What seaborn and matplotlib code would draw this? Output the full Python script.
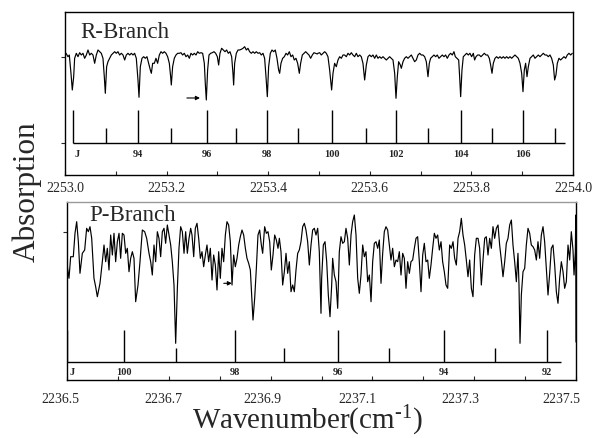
import numpy as np
import pandas as pd
import matplotlib
matplotlib.use("Agg")
import matplotlib.pyplot as plt
import matplotlib.transforms as mtransforms
import seaborn as sns
from matplotlib.ticker import MultipleLocator, FormatStrFormatter

# ---------------- data ----------------
# R-branch spectrum (wavenumber cm-1, absorption arb. units)
r_wn = [2253.0000, 2253.0020, 2253.0059, 2253.0085, 2253.0118, 2253.0144, 2253.0171, 2253.0190, 2253.0223, 2253.0256,
        2253.0289, 2253.0322, 2253.0354, 2253.0387, 2253.0420, 2253.0453, 2253.0486, 2253.0518, 2253.0551, 2253.0584,
        2253.0617, 2253.0650, 2253.0682, 2253.0715, 2253.0748, 2253.0774, 2253.0794, 2253.0820, 2253.0846, 2253.0879,
        2253.0912, 2253.0945, 2253.0978, 2253.1010, 2253.1043, 2253.1076, 2253.1109, 2253.1142, 2253.1175, 2253.1207,
        2253.1240, 2253.1273, 2253.1306, 2253.1339, 2253.1371, 2253.1404, 2253.1437, 2253.1457, 2253.1483, 2253.1516,
        2253.1549, 2253.1581, 2253.1614, 2253.1647, 2253.1680, 2253.1700, 2253.1726, 2253.1759, 2253.1791, 2253.1824,
        2253.1857, 2253.1890, 2253.1923, 2253.1955, 2253.1988, 2253.2021, 2253.2054, 2253.2080, 2253.2093, 2253.2119,
        2253.2152, 2253.2185, 2253.2218, 2253.2251, 2253.2283, 2253.2316, 2253.2349, 2253.2382, 2253.2415, 2253.2448,
        2253.2480, 2253.2513, 2253.2546, 2253.2579, 2253.2612, 2253.2644, 2253.2677, 2253.2710, 2253.2743, 2253.2762,
        2253.2782, 2253.2808, 2253.2835, 2253.2867, 2253.2900, 2253.2933, 2253.2966, 2253.2999, 2253.3025, 2253.3051,
        2253.3084, 2253.3117, 2253.3150, 2253.3182, 2253.3215, 2253.3248, 2253.3281, 2253.3307, 2253.3320, 2253.3340,
        2253.3373, 2253.3406, 2253.3438, 2253.3471, 2253.3504, 2253.3537, 2253.3570, 2253.3602, 2253.3635, 2253.3668,
        2253.3701, 2253.3734, 2253.3766, 2253.3799, 2253.3832, 2253.3865, 2253.3898, 2253.3930, 2253.3957, 2253.3983,
        2253.4009, 2253.4042, 2253.4075, 2253.4108, 2253.4140, 2253.4173, 2253.4206, 2253.4226, 2253.4252, 2253.4285,
        2253.4318, 2253.4351, 2253.4383, 2253.4416, 2253.4449, 2253.4482, 2253.4514, 2253.4547, 2253.4580, 2253.4613,
        2253.4639, 2253.4672, 2253.4705, 2253.4738, 2253.4770, 2253.4803, 2253.4836, 2253.4869, 2253.4902, 2253.4934,
        2253.4967,
        2253.4980, 2253.5013, 2253.5046, 2253.5079, 2253.5112, 2253.5144, 2253.5177, 2253.5210, 2253.5230, 2253.5249,
        2253.5276, 2253.5308, 2253.5341, 2253.5374, 2253.5407, 2253.5440, 2253.5473, 2253.5505, 2253.5538, 2253.5571,
        2253.5604, 2253.5637, 2253.5669, 2253.5702, 2253.5735, 2253.5768, 2253.5801, 2253.5833, 2253.5866, 2253.5899,
        2253.5932, 2253.5965, 2253.5997, 2253.6030, 2253.6063, 2253.6096, 2253.6129, 2253.6161, 2253.6194, 2253.6227,
        2253.6260, 2253.6293, 2253.6325, 2253.6358, 2253.6391, 2253.6424, 2253.6457, 2253.6490, 2253.6516, 2253.6542,
        2253.6568, 2253.6601, 2253.6621, 2253.6654, 2253.6686, 2253.6719, 2253.6752, 2253.6785, 2253.6818, 2253.6850,
        2253.6883, 2253.6916, 2253.6949, 2253.6982, 2253.7014, 2253.7047, 2253.7080, 2253.7113, 2253.7146, 2253.7172,
        2253.7198, 2253.7231, 2253.7264, 2253.7297, 2253.7329, 2253.7362, 2253.7395, 2253.7428, 2253.7461, 2253.7493,
        2253.7526, 2253.7559, 2253.7592, 2253.7625, 2253.7657, 2253.7684, 2253.7717, 2253.7750, 2253.7769, 2253.7789,
        2253.7815, 2253.7841, 2253.7874, 2253.7907, 2253.7940, 2253.7972, 2253.8005, 2253.8038, 2253.8064, 2253.8091,
        2253.8123, 2253.8156, 2253.8189, 2253.8222, 2253.8255, 2253.8287, 2253.8320, 2253.8353, 2253.8379, 2253.8406,
        2253.8432, 2253.8465, 2253.8497, 2253.8530, 2253.8563, 2253.8596, 2253.8629, 2253.8661, 2253.8694, 2253.8727,
        2253.8760, 2253.8793, 2253.8825, 2253.8858, 2253.8891, 2253.8924, 2253.8957, 2253.8990, 2253.9016, 2253.9042,
        2253.9068, 2253.9095, 2253.9121, 2253.9154, 2253.9186, 2253.9219, 2253.9252, 2253.9285, 2253.9318, 2253.9350,
        2253.9383, 2253.9416, 2253.9449, 2253.9482, 2253.9514, 2253.9547, 2253.9580, 2253.9613, 2253.9639, 2253.9665,
        2253.9692, 2253.9724, 2253.9757, 2253.9790, 2253.9823, 2253.9856, 2253.9888, 2253.9921, 2253.9954, 2253.9987]
r_abs = [120.0, 121.7, 118.3, 120.0, 101.7, 85.0, 98.3, 116.7, 121.7, 118.3,
         122.3, 120.0, 121.7, 116.7, 120.0, 125.0, 120.0, 121.7, 120.0, 111.7,
         120.0, 125.0, 123.3, 121.7, 116.7, 98.3, 81.7, 108.3, 113.3, 116.7,
         120.0, 121.7, 123.3, 121.7, 123.3, 120.0, 121.7, 120.0, 115.0, 120.0,
         121.7, 120.0, 121.7, 120.0, 121.7, 116.7, 95.0, 77.7, 108.3, 116.7,
         118.3, 116.7, 118.3, 111.7, 105.0, 101.7, 111.7, 111.7, 116.7, 111.7,
         120.0, 123.3, 121.7, 123.3, 121.7, 118.3, 111.7, 98.3, 90.0, 108.3,
         116.7, 120.0, 121.7, 121.7, 122.3, 120.0, 121.7, 118.3, 120.0, 116.7,
         121.7, 120.0, 121.7, 120.0, 123.3, 121.7, 122.3, 121.7, 111.7, 91.7,
         75.0, 105.0, 120.0, 121.7, 122.3, 123.3, 121.7, 118.3, 110.0, 121.7,
         126.7, 125.0, 123.3, 125.0, 121.7, 123.3, 118.3, 101.7, 90.0, 111.7,
         121.7, 125.0, 125.0, 125.7, 126.7, 128.3, 125.0, 126.7, 123.3, 121.7,
         123.3, 121.7, 123.3, 121.7, 122.3, 120.0, 121.7, 116.7, 98.3, 78.3,
         108.3, 121.7, 125.0, 123.3, 125.0, 116.7, 105.0, 101.7, 111.7, 116.7,
         118.3, 121.7, 120.0, 123.3, 118.3, 120.0, 115.0, 116.7, 111.7, 101.7,
         111.7, 120.0, 121.7, 123.3, 121.7, 120.0, 116.7, 120.0, 122.3, 121.7,
         121.0,
         121.7, 122.3, 120.0, 121.7, 123.3, 121.7, 118.3, 105.0, 95.0, 85.0,
         101.7, 111.7, 108.3, 115.0, 118.3, 116.7, 120.0, 120.0, 118.3, 121.7,
         120.0, 122.3, 120.0, 118.3, 121.7, 118.3, 120.0, 118.3, 111.7, 95.0,
         110.0, 118.3, 120.0, 118.3, 120.0, 116.7, 120.0, 116.7, 118.3, 116.7,
         118.3, 116.7, 115.0, 116.7, 118.3, 116.7, 115.0, 101.7, 76.7, 98.3,
         113.3, 110.0, 106.7, 113.3, 116.7, 118.3, 116.7, 118.3, 120.0, 116.7,
         113.3, 115.0, 120.0, 121.7, 120.0, 120.0, 118.3, 113.3, 98.3, 111.7,
         116.7, 118.3, 120.0, 118.3, 120.0, 116.7, 118.3, 120.0, 118.3, 120.0,
         116.7, 120.0, 121.7, 120.0, 123.3, 118.3, 116.7, 115.0, 98.3, 78.3,
         105.0, 118.3, 120.0, 121.7, 120.0, 121.7, 118.3, 121.7, 115.0, 118.3,
         120.0, 120.0, 118.3, 120.0, 121.7, 120.0, 120.0, 116.7, 110.0, 101.7,
         111.7, 116.7, 118.3, 116.7, 118.3, 116.7, 118.3, 116.7, 118.3, 116.7,
         118.3, 116.7, 118.3, 120.0, 118.3, 116.7, 111.7, 101.7, 83.3, 105.0,
         111.7, 98.3, 108.3, 116.7, 118.3, 120.0, 116.7, 118.3, 120.0, 118.3,
         120.0, 121.7, 120.0, 120.0, 118.3, 120.0, 116.7, 110.0, 95.0, 100.0,
         111.7, 116.7, 115.0, 116.7, 118.3, 116.7, 120.0, 121.7, 120.0, 121.7]

# P-branch spectrum
p_wn = [2236.5007, 2236.5039, 2236.5072, 2236.5124, 2236.5157, 2236.5190, 2236.5223, 2236.5255, 2236.5301, 2236.5347,
        2236.5386, 2236.5419, 2236.5452, 2236.5485, 2236.5530, 2236.5563, 2236.5596, 2236.5648, 2236.5694, 2236.5727,
        2236.5760, 2236.5792, 2236.5825, 2236.5858, 2236.5891, 2236.5923, 2236.5956, 2236.5989, 2236.6022, 2236.6054,
        2236.6087, 2236.6120, 2236.6153, 2236.6185, 2236.6218, 2236.6251, 2236.6284, 2236.6316, 2236.6349, 2236.6395,
        2236.6434, 2236.6480, 2236.6526, 2236.6565, 2236.6611, 2236.6644, 2236.6676, 2236.6709, 2236.6742, 2236.6775,
        2236.6807, 2236.6840, 2236.6873, 2236.6906, 2236.6938, 2236.6971, 2236.7004, 2236.7037, 2236.7069, 2236.7102,
        2236.7135, 2236.7168, 2236.7200, 2236.7233, 2236.7266, 2236.7299, 2236.7331, 2236.7364, 2236.7397, 2236.7430,
        2236.7456, 2236.7489, 2236.7521, 2236.7554, 2236.7587, 2236.7620, 2236.7652, 2236.7685, 2236.7718, 2236.7750,
        2236.7783, 2236.7816, 2236.7849, 2236.7881, 2236.7914, 2236.7947, 2236.7980, 2236.8012, 2236.8045, 2236.8078,
        2236.8111, 2236.8143, 2236.8176, 2236.8209, 2236.8242, 2236.8274, 2236.8307, 2236.8340, 2236.8373, 2236.8405,
        2236.8438, 2236.8471, 2236.8504, 2236.8536, 2236.8569, 2236.8602, 2236.8635, 2236.8654, 2236.8687, 2236.8720,
        2236.8752, 2236.8785, 2236.8818, 2236.8844, 2236.8883, 2236.8916, 2236.8949, 2236.8982, 2236.9014, 2236.9047,
        2236.9080, 2236.9113, 2236.9145, 2236.9172, 2236.9204, 2236.9237, 2236.9270, 2236.9303, 2236.9335, 2236.9368,
        2236.9401, 2236.9434, 2236.9466, 2236.9499, 2236.9532, 2236.9564, 2236.9597, 2236.9630, 2236.9663, 2236.9695,
        2236.9728, 2236.9761, 2236.9794, 2236.9826, 2236.9859, 2236.9892, 2236.9925, 2236.9957, 2236.9990,
        2237.0003, 2237.0036, 2237.0069, 2237.0102, 2237.0134, 2237.0167, 2237.0200, 2237.0219, 2237.0252, 2237.0285,
        2237.0318, 2237.0350, 2237.0383, 2237.0416, 2237.0449, 2237.0481, 2237.0514, 2237.0547, 2237.0580, 2237.0612,
        2237.0645, 2237.0678, 2237.0711, 2237.0743, 2237.0776, 2237.0809, 2237.0842, 2237.0874, 2237.0907, 2237.0940,
        2237.0973, 2237.1005, 2237.1038, 2237.1071, 2237.1104, 2237.1136, 2237.1169, 2237.1202, 2237.1234, 2237.1267,
        2237.1300, 2237.1333, 2237.1365, 2237.1398, 2237.1431, 2237.1464, 2237.1496, 2237.1529, 2237.1562, 2237.1595,
        2237.1627, 2237.1660, 2237.1693, 2237.1726, 2237.1758, 2237.1791, 2237.1824, 2237.1857, 2237.1889, 2237.1922,
        2237.1955, 2237.1988, 2237.2020, 2237.2053, 2237.2086, 2237.2118, 2237.2151, 2237.2184, 2237.2217, 2237.2249,
        2237.2282, 2237.2315, 2237.2348, 2237.2380, 2237.2413, 2237.2446, 2237.2479,
        2237.2518, 2237.2551, 2237.2584, 2237.2616, 2237.2649, 2237.2682, 2237.2714, 2237.2747, 2237.2780, 2237.2813,
        2237.2845, 2237.2878, 2237.2911, 2237.2944, 2237.2976, 2237.3009, 2237.3042, 2237.3075, 2237.3107, 2237.3140,
        2237.3173, 2237.3206, 2237.3238, 2237.3271, 2237.3304, 2237.3337, 2237.3369, 2237.3402, 2237.3435, 2237.3468,
        2237.3500, 2237.3533, 2237.3566, 2237.3599, 2237.3631, 2237.3664, 2237.3697, 2237.3730, 2237.3762, 2237.3795,
        2237.3828, 2237.3860, 2237.3880, 2237.3900, 2237.3926, 2237.3959, 2237.3992, 2237.4024, 2237.4057, 2237.4090,
        2237.4122, 2237.4155, 2237.4188, 2237.4221, 2237.4253, 2237.4286, 2237.4319, 2237.4352, 2237.4384, 2237.4417,
        2237.4450, 2237.4483, 2237.4515, 2237.4548, 2237.4581, 2237.4614, 2237.4646, 2237.4679, 2237.4712, 2237.4745,
        2237.4777, 2237.4810, 2237.4843, 2237.4876, 2237.4908, 2237.4941, 2237.4961, 2237.4987, 2237.4995, 2237.5000]
p_abs = [113.3, 101.7, 123.3, 123.3, 146.7, 158.3, 138.3, 106.7, 126.7, 130.0,
         151.7, 148.3, 153.3, 141.7, 101.7, 93.3, 83.3, 96.7, 118.3, 135.0,
         118.3, 131.7, 110.0, 145.0, 125.0, 146.7, 118.3, 138.3, 146.7, 121.7,
         146.7, 145.0, 126.7, 131.7, 108.3, 121.7, 128.3, 121.7, 78.3, 95.0,
         118.3, 150.0, 148.3, 141.7, 126.7, 118.3, 105.0, 135.0, 118.3, 148.3,
         141.7, 123.3, 148.3, 151.7, 136.7, 155.0, 145.0, 135.0, 118.3, 95.0,
         36.7, 91.7, 131.7, 153.3, 148.3, 126.7, 148.3, 126.7, 141.7, 151.7,
         145.0, 123.3, 151.7, 156.7, 141.7, 121.7, 128.3, 113.3, 125.0, 135.0,
         118.3, 131.7, 100.0, 125.0, 115.0, 90.0, 128.3, 101.7, 131.7, 118.3,
         145.0, 158.3, 155.0, 138.3, 95.0, 125.0, 113.3, 121.7, 135.0, 143.3,
         150.0, 145.0, 131.7, 121.7, 116.7, 110.0, 78.3, 60.0, 81.7, 111.7,
         145.0, 150.0, 135.0, 126.7, 153.3, 146.7, 148.3, 138.3, 110.0, 125.0,
         145.0, 140.0, 131.7, 141.7, 128.3, 95.0, 108.3, 126.7, 106.7, 118.3,
         88.3, 95.0, 88.3, 110.0, 126.7, 130.0, 138.3, 153.3, 156.7, 150.0,
         138.3, 115.0, 135.0, 150.0, 151.7, 145.0, 151.7, 128.3, 66.7,
         101.7, 135.0, 138.3, 118.3, 85.0, 63.3, 95.0, 121.7, 105.0, 98.3,
         71.7, 128.3, 143.3, 136.7, 138.3, 151.7, 141.7, 115.0, 145.0, 158.3,
         165.0, 145.0, 101.7, 86.7, 105.0, 135.0, 123.3, 128.3, 98.3, 105.0,
         78.3, 118.3, 136.7, 138.3, 131.7, 140.0, 96.7, 126.7, 148.3, 153.3,
         150.0, 135.0, 120.0, 131.7, 113.3, 120.0, 118.3, 128.3, 105.0, 126.7,
         121.7, 91.7, 118.3, 106.7, 118.3, 120.0, 131.7, 141.7, 143.3, 118.3,
         88.3, 125.0, 136.7, 118.3, 120.0, 101.7, 115.0, 131.7, 146.7, 141.7,
         145.0, 130.0, 138.3, 118.3, 108.3, 95.0, 91.7,
         135.0, 131.7, 138.3, 121.7, 115.0, 141.7, 148.3, 161.7, 145.0, 135.0,
         120.0, 103.3, 120.0, 91.7, 83.3, 125.0, 141.7, 141.7, 131.7, 95.0,
         120.0, 141.7, 143.3, 125.0, 141.7, 131.7, 153.3, 141.7, 151.7, 155.0,
         135.0, 120.0, 103.3, 118.3, 136.7, 141.7, 155.0, 160.0, 135.0, 118.3,
         98.3, 126.7, 95.0, 36.7, 85.0, 108.3, 111.7, 135.0, 151.7, 146.7,
         135.0, 133.3, 130.0, 120.0, 138.3, 121.7, 145.0, 153.3, 138.3, 111.7,
         85.0, 106.7, 131.7, 135.0, 115.0, 88.3, 76.7, 101.7, 118.3, 108.3,
         91.7, 98.3, 135.0, 120.0, 148.3, 130.0, 105.0, 128.3, 165.0, 38.0]

# assigned line positions (stick spectra)
r_stick_wn = [2253.0157, 2253.0807, 2253.1437, 2253.2087, 2253.2795, 2253.3366, 2253.3976, 2253.4587,
              2253.5256, 2253.5925, 2253.6516, 2253.7146, 2253.7795, 2253.8406, 2253.9016, 2253.9646]
r_stick_J = [92, 93, 94, 95, 96, 97, 98, 99, 100, 101, 102, 103, 104, 105, 106, 107]
p_stick_wn = [2236.5007, 2236.6120, 2236.7141, 2236.8294, 2236.9263, 2237.0331, 2237.1333,
              2237.2407, 2237.3402, 2237.4437]
p_stick_J = [102, 100, 99, 98, 97, 96, 95, 94, 93, 92]
r_labels = ["J", "94", "96", "98", "100", "102", "104", "106"]
p_labels = ["J", "100", "98", "96", "94", "92"]
r_xticks = [2253.0, 2253.2, 2253.4, 2253.6, 2253.8, 2254.0]
p_xticks = [2236.5, 2236.7, 2236.9, 2237.1, 2237.3, 2237.5]

# ---------------- style ----------------
sns.set_style("ticks")
plt.rcParams["font.family"] = ["Liberation Serif", "DejaVu Serif"]
plt.rcParams["mathtext.fontset"] = "custom"
plt.rcParams["mathtext.rm"] = "Liberation Serif"
plt.rcParams["mathtext.it"] = "Liberation Serif:italic"
plt.rcParams["axes.linewidth"] = 1.0

fig = plt.figure(figsize=(5.94, 4.38), dpi=100)
ax1 = fig.add_axes([0.1094, 0.6005, 0.8552, 0.3721])
ax2 = fig.add_axes([0.1128, 0.1324, 0.8569, 0.4064])


def stick_panel(ax, wn, J, labels, base, scale, lab_y, x_end):
    inten = [1.0 if j % 2 == 0 else 0.45 for j in J]
    tops = [base + scale * v for v in inten]
    ax.vlines(wn, base, tops, color="black", lw=1.0)
    ax.hlines(base, wn[0], x_end, color="black", lw=1.0)
    tall = [w for w, j in zip(wn, J) if j % 2 == 0]
    for i, (w, lab) in enumerate(zip(tall, labels)):
        ax.text(w + (0.004 if i == 0 else 0.0), lab_y, lab, ha="left" if i == 0 else "center",
                va="center", fontsize=7.5, fontweight="bold")


df_r = pd.DataFrame({"wn": r_wn, "abs": r_abs})
sns.lineplot(data=df_r, x="wn", y="abs", ax=ax1, color="black", lw=0.85, sort=False, estimator=None)
df_p = pd.DataFrame({"wn": p_wn, "abs": p_abs})
sns.lineplot(data=df_p, x="wn", y="abs", ax=ax2, color="black", lw=0.85, sort=False, estimator=None)

stick_panel(ax1, r_stick_wn, r_stick_J, r_labels, 32, 33, 20, 2253.9843)
stick_panel(ax2, p_stick_wn, p_stick_J, p_labels, 18, 32, 8, 2237.4711)

ax1.set_xlim(2253.0, 2254.0)
ax1.set_ylim(0, 163)
ax2.set_xlim(2236.5, 2237.5)
ax2.set_ylim(0, 178)

for ax, ticks in ((ax1, r_xticks), (ax2, p_xticks)):
    ax.set_xticks(ticks)
    ax.xaxis.set_minor_locator(MultipleLocator(0.1))
    ax.xaxis.set_major_formatter(FormatStrFormatter("%.1f"))
    ax.tick_params(axis="x", which="both", direction="in", length=3, width=0.8, labelsize=10)
    ax.tick_params(axis="y", which="both", direction="out", length=3, width=0.8, labelleft=False)
    ax.set_xlabel("")
    ax.set_ylabel("")
    for s in ax.spines.values():
        s.set_visible(True)
        s.set_color("black")
ax1.tick_params(axis="x", pad=5)
ax2.tick_params(axis="x", pad=9)
ax1.set_yticks([32, 118])
ax2.set_yticks([148])
ax2.spines["top"].set_color("#9a9a9a")

# the lower panel's tick labels sit slightly left of their ticks in the original
p_label_shift = [-7, -5, -8, -15, -14, -15]
for lab, dx in zip(ax2.get_xticklabels(), p_label_shift):
    lab.set_transform(lab.get_transform() + mtransforms.ScaledTranslation(dx / 100, 0, fig.dpi_scale_trans))

ax1.text(0.0295, 0.84, "R-Branch", transform=ax1.transAxes, fontsize=16.5, ha="left", va="baseline")
ax2.text(0.0432, 0.893, "P-Branch", transform=ax2.transAxes, fontsize=16.5, ha="left", va="baseline")

arrow = dict(arrowstyle="-|>", lw=0.8, color="black", mutation_scale=6, shrinkA=0, shrinkB=0)
ax1.annotate("", xy=(2253.2657, 77), xytext=(2253.2400, 77), arrowprops=arrow)
ax2.annotate("", xy=(2236.8240, 96.7), xytext=(2236.8080, 96.7), arrowprops=arrow)

fig.text(0.0455, 0.563, "Absorption", rotation=90, ha="center", va="center", fontsize=22.5)
fig.text(0.518, 0.02, "Wavenumber(cm$^{\\text{-1}}$)", ha="center", va="baseline", fontsize=21)

fig.savefig("out.png", dpi=100)
